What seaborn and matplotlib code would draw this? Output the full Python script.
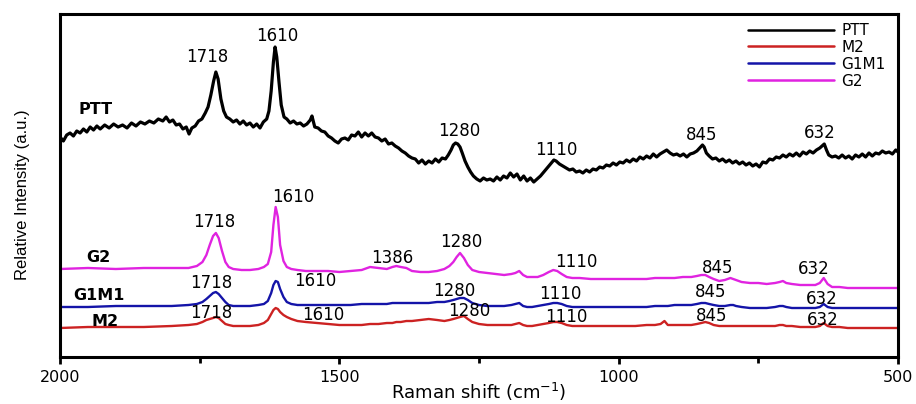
import matplotlib
matplotlib.use("Agg")
import matplotlib.pyplot as plt
import seaborn as sns
from matplotlib.ticker import FixedLocator

sns.set_style("ticks")
plt.rcParams["font.family"] = ["DejaVu Sans"]
plt.rcParams["text.color"] = "black"
plt.rcParams["axes.labelcolor"] = "black"
plt.rcParams["xtick.color"] = "black"
plt.rcParams["ytick.color"] = "black"

# ---------------- data ----------------
ptt_shift = [
    2000, 1994, 1988, 1982, 1976, 1970, 1964, 1958, 1952, 1946,
    1940, 1934, 1928, 1920, 1912, 1904, 1896, 1888, 1880, 1872,
    1864, 1856, 1848, 1840, 1832, 1824, 1816, 1810, 1804, 1798,
    1792, 1786, 1780, 1774, 1769, 1764, 1758, 1752, 1746, 1740,
    1735, 1730, 1725, 1721, 1717, 1712, 1707, 1702, 1696, 1690,
    1684, 1678, 1672, 1666, 1660, 1654, 1648, 1642, 1636, 1630,
    1626, 1622, 1618, 1615, 1612, 1608, 1604, 1599, 1594, 1588,
    1582, 1576, 1570, 1564, 1558, 1552, 1549, 1544, 1538, 1532,
    1526, 1520, 1514, 1508, 1502, 1496, 1490, 1484, 1478, 1472,
    1466, 1460, 1454, 1448, 1442, 1436, 1430, 1424, 1418, 1412,
    1406, 1400, 1394, 1388, 1382, 1376, 1370, 1364, 1358, 1352,
    1346, 1340, 1334, 1328, 1322, 1316, 1310, 1305, 1300, 1296,
    1292, 1288, 1284, 1280, 1275, 1270, 1265, 1260, 1254, 1248,
    1242, 1236, 1230, 1224, 1218, 1212, 1206, 1200, 1194, 1188,
    1182, 1176, 1170, 1164, 1158, 1152, 1146, 1140, 1134, 1128,
    1122, 1116, 1112, 1106, 1100, 1094, 1088, 1082, 1076, 1070,
    1064, 1058, 1052, 1046, 1040, 1034, 1028, 1022, 1016, 1010,
    1004, 998, 992, 986, 980, 974, 968, 962, 956, 950,
    944, 938, 932, 926, 920, 914, 908, 902, 896, 890,
    884, 878, 872, 866, 860, 855, 850, 847, 843, 838,
    832, 826, 820, 814, 808, 802, 796, 790, 784, 778,
    772, 766, 760, 754, 748, 742, 736, 730, 724, 718,
    712, 706, 700, 694, 688, 682, 676, 670, 664, 658,
    652, 646, 640, 636, 632, 628, 624, 618, 612, 606,
    600, 594, 588, 582, 576, 570, 564, 558, 552, 546,
    540, 534, 528, 522, 516, 510, 504, 500,
]
ptt_intensity = [
    220, 216, 222, 224, 221, 226, 224, 228, 225, 230,
    227, 231, 228, 232, 229, 233, 230, 232, 229, 234,
    231, 235, 233, 236, 234, 238, 236, 240, 235, 237,
    232, 233, 228, 230, 223, 229, 231, 236, 238, 244,
    250, 262, 276, 285, 278, 258, 246, 240, 238, 235,
    237, 233, 236, 232, 234, 230, 233, 229, 235, 238,
    246, 266, 295, 310, 300, 275, 252, 240, 238, 234,
    236, 233, 234, 231, 233, 237, 241, 230, 229, 226,
    225, 221, 219, 216, 214, 218, 219, 217, 222, 221,
    225, 220, 224, 221, 224, 220, 219, 216, 218, 213,
    214, 211, 209, 206, 204, 201, 199, 198, 194, 197,
    193, 196, 194, 198, 195, 199, 198, 202, 207, 212,
    214, 213, 210, 204, 196, 190, 185, 181, 178, 176,
    179, 177, 178, 176, 180, 177, 181, 179, 184, 180,
    183, 177, 181, 176, 179, 175, 178, 181, 185, 189,
    193, 197, 196, 193, 191, 189, 187, 188, 185, 186,
    184, 187, 185, 188, 187, 190, 189, 192, 191, 194,
    192, 195, 194, 197, 195, 198, 196, 200, 198, 201,
    199, 203, 200, 203, 205, 207, 204, 202, 203, 201,
    203, 200, 203, 204, 206, 209, 212, 210, 204, 201,
    198, 199, 196, 198, 195, 197, 194, 196, 193, 195,
    192, 194, 191, 193, 190, 195, 194, 198, 197, 200,
    199, 202, 200, 203, 201, 204, 201, 205, 203, 206,
    204, 207, 209, 211, 213, 207, 202, 200, 201, 199,
    202, 199, 201, 198, 202, 200, 203, 200, 204, 201,
    204, 203, 206, 204, 205, 203, 207, 205,
]

shift = [
    2000, 1950, 1900, 1850, 1800, 1770, 1755, 1745, 1738, 1732,
    1726, 1721, 1716, 1710, 1704, 1698, 1690, 1675, 1660, 1645,
    1635, 1628, 1622, 1618, 1614, 1610, 1606, 1600, 1594, 1586,
    1575, 1560, 1540, 1520, 1500, 1480, 1460, 1445, 1430, 1415,
    1405, 1398, 1390, 1380, 1370, 1355, 1340, 1325, 1312, 1303,
    1296, 1290, 1284, 1277, 1270, 1262, 1250, 1235, 1220, 1205,
    1192, 1185, 1178, 1171, 1164, 1155, 1145, 1135, 1125, 1117,
    1110, 1102, 1093, 1083, 1070, 1050, 1030, 1010, 990, 970,
    950, 935, 925, 918, 912, 900, 885, 870, 860, 852,
    845, 838, 830, 820, 810, 800, 795, 790, 780, 765,
    750, 735, 720, 712, 706, 700, 690, 675, 660, 648,
    640, 633, 626, 618, 605, 590, 570, 550, 530, 510,
    500,
]
g2_intensity = [
    88, 89, 88, 89, 89, 89, 91, 95, 102, 112,
    121, 124, 119, 106, 95, 90, 88, 87, 87, 88,
    90, 93, 105, 132, 150, 140, 112, 96, 90, 88,
    87, 86, 86, 86, 85, 86, 87, 90, 89, 88,
    90, 91, 90, 89, 86, 85, 85, 86, 88, 91,
    95, 100, 104, 99, 92, 87, 85, 84, 83, 82,
    83, 84, 86, 82, 80, 80, 80, 82, 85, 87,
    86, 83, 80, 79, 79, 78, 78, 78, 78, 78,
    78, 79, 79, 79, 79, 79, 80, 80, 81, 82,
    82, 80, 78, 76, 77, 79, 78, 77, 75, 74,
    74, 73, 74, 75, 76, 74, 73, 72, 72, 72,
    74, 79, 73, 70, 70, 69, 69, 69, 69, 69,
    69,
]
g1m1_intensity = [
    50, 50, 51, 51, 51, 52, 53, 55, 58, 61,
    64, 65, 63, 59, 55, 52, 51, 51, 51, 52,
    53, 56, 64, 72, 76, 75, 68, 60, 55, 53,
    52, 52, 52, 52, 52, 52, 53, 53, 53, 53,
    54, 54, 54, 54, 54, 54, 54, 55, 55, 56,
    57, 58, 59, 59, 57, 54, 52, 51, 51, 51,
    52, 53, 54, 51, 50, 50, 51, 52, 53, 54,
    54, 53, 51, 50, 50, 50, 50, 50, 50, 50,
    50, 51, 51, 51, 51, 52, 52, 52, 53, 54,
    54, 53, 52, 51, 51, 52, 52, 51, 50, 49,
    49, 49, 50, 51, 51, 50, 49, 49, 49, 49,
    50, 53, 50, 49, 49, 49, 49, 49, 49, 49,
    49,
]
m2_intensity = [
    29, 30, 30, 30, 31, 32, 33, 35, 37, 38,
    39, 40, 39, 36, 33, 32, 31, 31, 31, 32,
    34, 37, 43, 47, 49, 48, 45, 42, 40, 38,
    36, 35, 34, 33, 32, 32, 32, 33, 33, 34,
    34, 35, 35, 36, 36, 37, 38, 37, 36, 37,
    38, 39, 40, 41, 38, 35, 33, 32, 32, 32,
    32, 33, 34, 32, 31, 31, 32, 33, 34, 35,
    35, 34, 32, 31, 31, 31, 31, 31, 31, 31,
    32, 32, 33, 36, 32, 32, 32, 32, 33, 34,
    35, 34, 32, 31, 31, 31, 31, 31, 31, 31,
    31, 31, 31, 32, 32, 31, 31, 30, 30, 30,
    31, 34, 31, 30, 30, 29, 29, 29, 29, 29,
    29,
]

x_ticks = [2000, 1500, 1000, 500]
x_minor_ticks = [1750, 1250, 750]
legend_order = ["PTT", "M2", "G1M1", "G2"]

# peak labels: (text, shift, intensity)
ptt_peak_labels = [("1718", 1736, 300), ("1610", 1611, 321), ("1280", 1286, 226),
                   ("1110", 1112, 207), ("845", 851, 222), ("632", 640, 224)]
g2_peak_labels = [("1718", 1724, 135), ("1610", 1583, 160), ("1386", 1406, 99),
                  ("1280", 1282, 115), ("1110", 1075, 95), ("845", 822, 89),
                  ("632", 650, 88)]
g1m1_peak_labels = [("1718", 1730, 74), ("1610", 1544, 76), ("1280", 1295, 66),
                    ("1110", 1105, 63), ("845", 835, 65), ("632", 636, 58)]
m2_peak_labels = [("1718", 1730, 44), ("1610", 1529, 42), ("1280", 1268, 46),
                  ("1110", 1094, 40), ("845", 833, 41), ("632", 634, 37)]
name_labels = [("PTT", 1937, 247), ("G2", 1932, 100), ("G1M1", 1930, 62), ("M2", 1919, 36)]

# ---------------- figure ----------------
fig = plt.figure(figsize=(9.16, 4.04), dpi=100)
ax = fig.add_axes([60 / 916, 47 / 404, 838 / 916, 343 / 404])

sns.lineplot(x=ptt_shift, y=ptt_intensity, ax=ax, color="black", lw=2.3,
             label="PTT", sort=False, estimator=None)
sns.lineplot(x=shift, y=g2_intensity, ax=ax, color="#e023e0", lw=1.7,
             label="G2", sort=False, estimator=None)
sns.lineplot(x=shift, y=g1m1_intensity, ax=ax, color="#1414a8", lw=1.7,
             label="G1M1", sort=False, estimator=None)
sns.lineplot(x=shift, y=m2_intensity, ax=ax, color="#cc2222", lw=1.7,
             label="M2", sort=False, estimator=None)

ax.set_xlim(2000, 500)
ax.set_ylim(0, 343)
ax.xaxis.set_major_locator(FixedLocator(x_ticks))
ax.xaxis.set_minor_locator(FixedLocator(x_minor_ticks))
ax.set_yticks([])
ax.tick_params(axis="x", which="major", direction="out", length=5, width=2,
               labelsize=11.5, pad=4, colors="black")
ax.tick_params(axis="x", which="minor", direction="out", length=4, width=2, colors="black")
for sp in ax.spines.values():
    sp.set_visible(True)
    sp.set_linewidth(2.2)
    sp.set_color("black")

ax.set_xlabel("Raman shift (cm$^{-1}$)", fontsize=13, color="black")
ax.xaxis.label.set_va("center")
ax.xaxis.set_label_coords(0.5, -0.103)
ax.set_ylabel("Relative Intensity (a.u.)", fontsize=12, color="black",
              family=["Liberation Sans Narrow", "Liberation Sans", "DejaVu Sans"])
ax.yaxis.label.set_va("center")
ax.yaxis.set_label_coords(-0.045, 0.472)

for group in (ptt_peak_labels, g2_peak_labels, g1m1_peak_labels, m2_peak_labels):
    for txt, xs, yi in group:
        ax.text(xs, yi, txt, ha="center", va="center", fontsize=12, color="black")
for txt, xs, yi in name_labels:
    ax.text(xs, yi, txt, ha="center", va="center", fontsize=11.5,
            fontweight="bold", color="black")

handles, labels = ax.get_legend_handles_labels()
hmap = dict(zip(labels, handles))
leg = ax.legend([hmap[k] for k in legend_order], legend_order, loc="upper left",
                bbox_to_anchor=(748 / 916, 1 - 23 / 404), bbox_transform=fig.transFigure,
                frameon=False, fontsize=11, handlelength=5.6, handletextpad=0.5,
                labelspacing=0.12, borderpad=0, borderaxespad=0)
for ln in leg.get_lines():
    ln.set_linewidth(1.8)
for t in leg.get_texts():
    t.set_color("black")

fig.savefig("out.png", dpi=100)
